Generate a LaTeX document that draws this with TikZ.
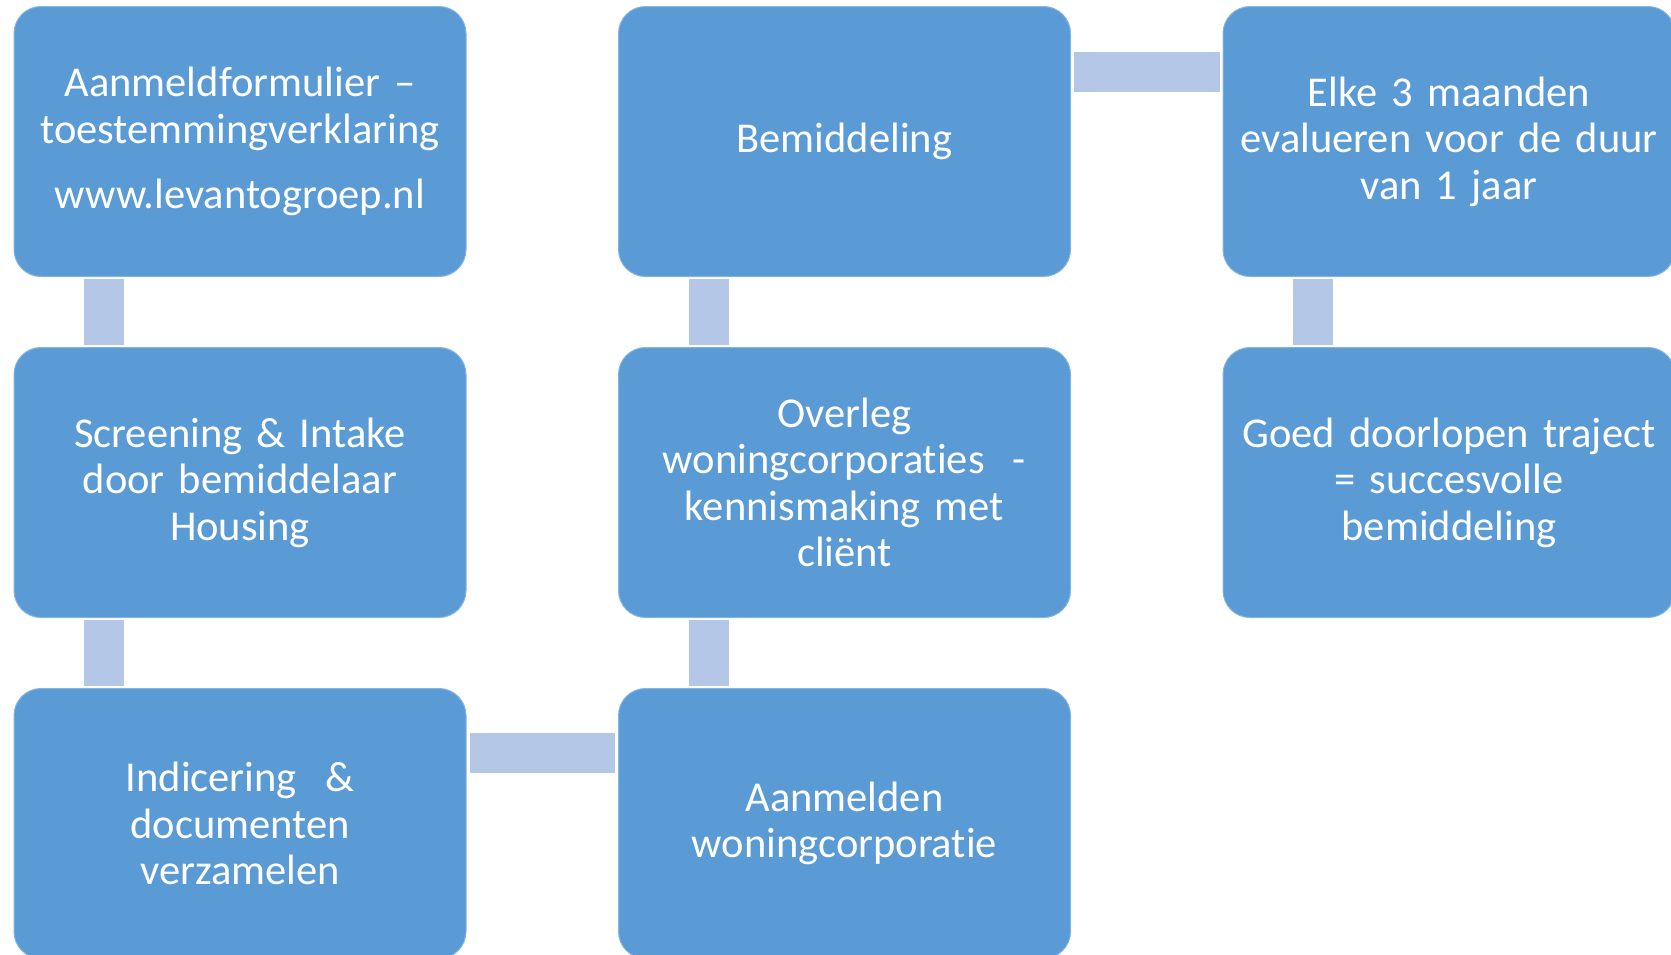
\documentclass[tikz,border=0pt]{standalone}
\usepackage{fontspec}
\setmainfont[Ligatures=NoCommon,WordSpace=0.82]{Carlito}
\definecolor{boxblue}{RGB}{91,155,213}
\definecolor{connblue}{RGB}{180,199,231}
\begin{document}
\begin{tikzpicture}[x=1pt,y=-1pt,
  stepbox/.style={rectangle, rounded corners=27pt, fill=boxblue, draw=boxblue!75!white,
    line width=1pt, minimum width=452pt, minimum height=270pt, text width=445pt,
    inner sep=0pt, align=center, text=white, font=\fontsize{42.5}{46.5}\selectfont},
  conn/.style={draw=connblue, line width=40pt}]
\useasboundingbox (0,0) rectangle (1671,954);
\node[stepbox] (a) at (240,141.5) {Aanmeldformulier --\\ toestemmingverklaring\\[19pt] www.levantogroep.nl};
\node[stepbox] (b) at (240,482.5) {Screening \& Intake\\ door bemiddelaar\\ Housing};
\node[stepbox] (c) at (240,823.5) {Indicering~~\&\\ documenten\\ verzamelen};
\node[stepbox] (d) at (844.5,823.5) {Aanmelden\\ woningcorporatie};
\node[stepbox] (e) at (844.5,482.5) {Overleg\\ woningcorporaties~~-\\ kennismaking met\\ cliënt};
\node[stepbox] (f) at (844.5,141.5) {Bemiddeling};
\node[stepbox] (g) at (1449,141.5) {Elke 3 maanden\\ evalueren voor de duur\\ van 1 jaar};
\node[stepbox] (h) at (1449,482.5) {Goed doorlopen traject\\ = succesvolle\\ bemiddeling};
\draw[conn] ([xshift=90.5pt,yshift=-2pt]a.south west) -- ([xshift=90.5pt,yshift=2pt]b.north west);
\draw[conn] ([xshift=90.5pt,yshift=-2pt]b.south west) -- ([xshift=90.5pt,yshift=2pt]c.north west);
\draw[conn] ([xshift=3pt,yshift=-65pt]c.north east) -- ([xshift=-3pt,yshift=-65pt]d.north west);
\draw[conn] ([xshift=90.5pt,yshift=2pt]d.north west) -- ([xshift=90.5pt,yshift=-2pt]e.south west);
\draw[conn] ([xshift=90.5pt,yshift=2pt]e.north west) -- ([xshift=90.5pt,yshift=-2pt]f.south west);
\draw[conn] ([xshift=3pt,yshift=-65.5pt]f.north east) -- ([xshift=-3pt,yshift=-65.5pt]g.north west);
\draw[conn] ([xshift=90.5pt,yshift=-2pt]g.south west) -- ([xshift=90.5pt,yshift=2pt]h.north west);
\end{tikzpicture}
\end{document}
